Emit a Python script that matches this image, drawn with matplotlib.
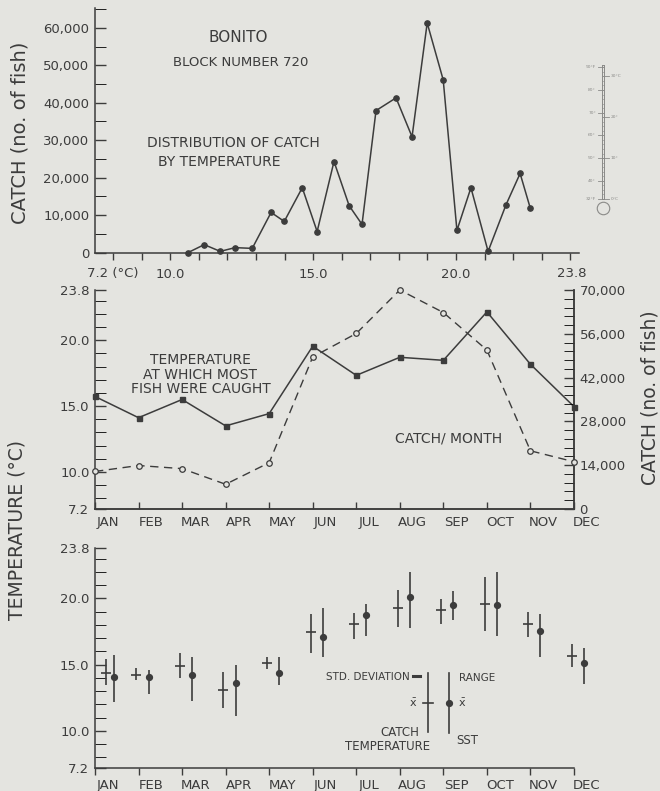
import matplotlib
matplotlib.use('Agg')
import matplotlib.pyplot as plt
import matplotlib.transforms as mtrans
import numpy as np

W, H = 660, 791
BG = '#e4e4e0'
INK = '#3c3c3c'
plt.rcParams['font.family'] = ['DejaVu Sans']

# ---------------- data ----------------
# top panel: catch by temperature (deg C)
temp_c = [10.63, 11.19, 11.75, 12.27, 12.87, 13.53, 13.99, 14.62, 15.14, 15.73, 16.26,
          16.71, 17.20, 17.90, 18.46, 18.99, 19.55, 20.03, 20.52, 21.12, 21.75, 22.24, 22.59]
catch_by_temp = [0, 2100, 300, 1300, 1100, 10700, 8300, 17300, 5600, 24300, 12500,
                 7500, 37900, 41300, 30900, 61300, 46100, 5900, 17300, 300, 12800, 21100, 12000]
top_ytick_labels = ['0', '10,000', '20,000', '30,000', '40,000', '50,000', '60,000']

months = ['JAN', 'FEB', 'MAR', 'APR', 'MAY', 'JUN', 'JUL', 'AUG', 'SEP', 'OCT', 'NOV', 'DEC']

# middle panel
temp_most = [15.73, 14.12, 15.5, 13.5, 14.43, 19.54, 17.33, 18.7, 18.47, 22.14, 18.17, 14.96]
catch_month = [12000, 13900, 12900, 7900, 14800, 48600, 56100, 70000, 62800, 50800, 18600, 15100]
right_ytick_labels = ['0', '14,000', '28,000', '42,000', '56,000', '70,000']

# bottom panel
catch_mean = [14.37, 14.2, 14.9, 13.1, 15.14, 17.46, 18.07, 19.29, 19.11, 19.59, 18.07, 15.65]
catch_lo = [13.44, 13.87, 14.0, 11.73, 14.7, 15.9, 16.92, 17.84, 18.09, 17.56, 17.08, 14.85]
catch_hi = [15.40, 14.76, 15.85, 14.45, 15.6, 18.83, 18.9, 20.61, 19.98, 21.63, 18.98, 16.54]
sst_mean = [14.07, 14.07, 14.2, 13.64, 14.34, 17.08, 18.73, 20.13, 19.47, 19.47, 17.5, 15.1]
sst_lo = [12.16, 12.8, 12.29, 11.15, 13.44, 15.6, 17.18, 17.76, 18.35, 17.18, 15.6, 13.56]
sst_hi = [15.73, 14.58, 15.6, 14.96, 15.6, 19.29, 19.54, 21.96, 20.56, 22.0, 18.83, 16.24]

temp_ytick_labels = ['7.2', '10.0', '15.0', '20.0', '23.8']

# thermometer icon scale (deg F positions)
thermo_f = [32, 40, 50, 60, 70, 80, 90]
thermo_f_labels = ['32°F', '40°', '50°', '60°', '70°', '80°', '90°F']
thermo_c_at_f = [32, 50, 68, 86]
thermo_c_labels = ['0°C', '10°', '20°', '30°C']

# ---------------- figure ----------------
fig = plt.figure(figsize=(W / 100, H / 100), dpi=100, facecolor=BG)


def box(l, t, r, b):
    return [l / W, 1 - b / H, (r - l) / W, (b - t) / H]


def fx(px):
    return px / W


def fy(py):
    return 1 - py / H


TS = 9.5  # tick label size

def style(ax):
    ax.set_facecolor('none')
    for s in ax.spines.values():
        s.set_color(INK)
        s.set_linewidth(1.1)
    ax.tick_params(colors=INK, labelcolor=INK, labelsize=TS, width=1.0)


# ---------- top panel ----------
ax1 = fig.add_axes(box(95, 8, 579, 252.5))
style(ax1)
ax1.spines['top'].set_visible(False)
ax1.spines['right'].set_visible(False)
ax1.set_xlim(7.37, 24.3)
ax1.set_ylim(0, 65300)
ax1.plot(temp_c, catch_by_temp, color=INK, lw=1.1, marker='o', ms=3.8,
         mfc=INK, mec=INK, clip_on=False, zorder=3)
ax1.set_yticks(np.arange(0, 60001, 10000))
ax1.set_yticklabels(top_ytick_labels)
ax1.set_yticks(np.arange(0, 65001, 5000), minor=True)
ax1.tick_params(axis='y', which='both', direction='in', length=8, pad=4)
ax1.set_xticks(np.arange(8, 25, 1))
ax1.set_xticklabels(['' if v not in (10, 15, 20) else f'{v:.1f}' for v in range(8, 25)])
ax1.tick_params(axis='x', direction='out', length=5, pad=6)
ax1.text(7.1, -0.085, '7.2 (°C)', transform=ax1.get_xaxis_transform(), ha='left',
         va='center', fontsize=TS, color=INK)
ax1.text(24.05, -0.085, '23.8', transform=ax1.get_xaxis_transform(), ha='center',
         va='center', fontsize=TS, color=INK)

# thermometer icon
th = fig.add_axes(box(575, 58, 640, 218))
th.set_axis_off()
th.set_xlim(0, 65)
th.set_ylim(23.6, 94.1)
tc = '#8a8a88'
th.plot([26.6, 26.6], [32, 91], color=tc, lw=0.7)
th.plot([29.4, 29.4], [32, 91], color=tc, lw=0.7)
th.plot([26.6, 29.4], [91, 91], color=tc, lw=0.7)
for f in range(32, 91, 2):
    th.plot([26.6, 29.4], [f, f], color=tc, lw=0.4)
th.plot([28], [28.2], marker='o', ms=9, mfc='none', mec=tc, mew=0.8)
for f, lab in zip(thermo_f, thermo_f_labels):
    th.plot([22.5, 28], [f, f], color=tc, lw=0.6)
    th.text(21, f, lab, ha='right', va='center', fontsize=3.2, color=tc)
for f, lab in zip(thermo_c_at_f, thermo_c_labels):
    th.plot([28, 34], [f, f], color=tc, lw=0.6)
    th.text(36, f, lab, ha='left', va='center', fontsize=3.2, color=tc)

fig.text(fx(238), fy(37), 'BONITO', ha='center', va='center', fontsize=11, color=INK)
fig.text(fx(241), fy(63), 'BLOCK NUMBER 720', ha='center', va='center', fontsize=9.5, color=INK)
fig.text(fx(147), fy(143), 'DISTRIBUTION OF CATCH', ha='left', va='center', fontsize=10, color=INK)
fig.text(fx(158), fy(162), 'BY TEMPERATURE', ha='left', va='center', fontsize=10, color=INK)
fig.text(fx(20), fy(133), 'CATCH (no. of fish)', rotation=90, ha='center', va='center',
         fontsize=14, color=INK)

# ---------- middle panel ----------
ax2 = fig.add_axes(box(95, 290, 574, 509))
style(ax2)
ax2.spines['top'].set_visible(False)
ax2.set_xlim(0, 11)
ax2.set_ylim(7.2, 23.8)
x_m = np.arange(len(months))
ax2.plot(x_m, temp_most, color=INK, lw=1.1, marker='s', ms=3.6, mfc=INK, mec=INK,
         clip_on=False, zorder=3)
ax2.set_yticks([7.2, 10, 15, 20, 23.8])
ax2.set_yticklabels(temp_ytick_labels)
ax2.set_yticks(list(range(8, 24)), minor=True)
ax2.tick_params(axis='y', which='both', direction='in', length=8, pad=4)
ax2.set_xticks(x_m)
ax2.set_xticklabels(months)
ax2.tick_params(axis='x', direction='in', length=5, pad=5)
off = mtrans.ScaledTranslation(0.13, 0, fig.dpi_scale_trans)
for lab in ax2.get_xticklabels():
    lab.set_transform(lab.get_transform() + off)

ax2r = ax2.twinx()
style(ax2r)
ax2r.spines['top'].set_visible(False)
ax2r.spines['left'].set_visible(False)
ax2r.set_ylim(0, 70000)
ax2r.plot(x_m, catch_month, color=INK, lw=1.0, ls=(0, (6, 4)), marker='o', ms=4,
          mfc=BG, mec=INK, mew=0.9, clip_on=False, zorder=3)
ax2r.set_yticks(np.arange(0, 70001, 14000))
ax2r.set_yticklabels(right_ytick_labels)
ax2r.set_yticks(np.arange(0, 70001, 2800), minor=True)
ax2r.tick_params(axis='y', which='both', direction='in', length=7, pad=4)

fig.text(fx(200), fy(360), 'TEMPERATURE', ha='center', va='center', fontsize=10, color=INK)
fig.text(fx(200), fy(375), 'AT WHICH MOST', ha='center', va='center', fontsize=10, color=INK)
fig.text(fx(201), fy(389), 'FISH WERE CAUGHT', ha='center', va='center', fontsize=10, color=INK)
fig.text(fx(449), fy(438), 'CATCH/ MONTH', ha='center', va='center', fontsize=10, color=INK)
fig.text(fx(650), fy(398), 'CATCH (no. of fish)', rotation=90, ha='center', va='center',
         fontsize=13.5, color=INK)
fig.text(fx(17), fy(530), 'TEMPERATURE (°C)', rotation=90, ha='center', va='center',
         fontsize=13.5, color=INK)

# ---------- bottom panel ----------
ax3 = fig.add_axes(box(95, 548, 574, 768))
style(ax3)
ax3.spines['top'].set_visible(False)
ax3.spines['right'].set_visible(False)
ax3.set_xlim(0, 11)
ax3.set_ylim(7.2, 23.8)
x_c = x_m - 0.05
x_c[0] = 0.25
x_s = x_m + 0.23
x_s[0] = 0.44
ax3.vlines(x_c, catch_lo, catch_hi, color=INK, lw=1.2, clip_on=False)
ax3.plot(x_c, catch_mean, ls='none', marker='_', ms=7, mew=1.2, color=INK, clip_on=False)
ax3.vlines(x_s, sst_lo, sst_hi, color=INK, lw=1.2, clip_on=False)
ax3.plot(x_s, sst_mean, ls='none', marker='o', ms=4.2, color=INK, clip_on=False)
ax3.set_yticks([7.2, 10, 15, 20, 23.8])
ax3.set_yticklabels(temp_ytick_labels)
ax3.set_yticks(list(range(8, 24)), minor=True)
ax3.tick_params(axis='y', which='both', direction='in', length=8, pad=4)
ax3.set_xticks(x_m)
ax3.set_xticklabels(months)
ax3.tick_params(axis='x', direction='out', length=5, pad=3)
for lab in ax3.get_xticklabels():
    lab.set_transform(lab.get_transform() + off)

# legend key
fig.add_artist(plt.Line2D([fx(428), fx(428)], [fy(673), fy(732)], color=INK, lw=1.2))
fig.add_artist(plt.Line2D([fx(423), fx(433)], [fy(703), fy(703)], color=INK, lw=1.2))
fig.add_artist(plt.Line2D([fx(449), fx(449)], [fy(673), fy(733)], color=INK, lw=1.2))
fig.add_artist(plt.Line2D([fx(449)], [fy(703)], marker='o', ms=4.2, color=INK))
fig.add_artist(plt.Line2D([fx(413), fx(420)], [fy(676), fy(676)], color=INK, lw=2.2))
fig.text(fx(410), fy(677), 'STD. DEVIATION', ha='right', va='center', fontsize=7.5, color=INK)
fig.text(fx(459), fy(678), 'RANGE', ha='left', va='center', fontsize=7.5, color=INK)
fig.text(fx(413), fy(703), r'$\bar{\mathrm{x}}$', ha='center', va='center', fontsize=8, color=INK)
fig.text(fx(462), fy(703), r'$\bar{\mathrm{x}}$', ha='center', va='center', fontsize=8, color=INK)
fig.text(fx(400), fy(732), 'CATCH', ha='center', va='center', fontsize=8.5, color=INK)
fig.text(fx(388), fy(747), 'TEMPERATURE', ha='center', va='center', fontsize=8.5, color=INK)
fig.text(fx(467), fy(740), 'SST', ha='center', va='center', fontsize=8.5, color=INK)

fig.savefig('out.png', dpi=100, facecolor=BG)
